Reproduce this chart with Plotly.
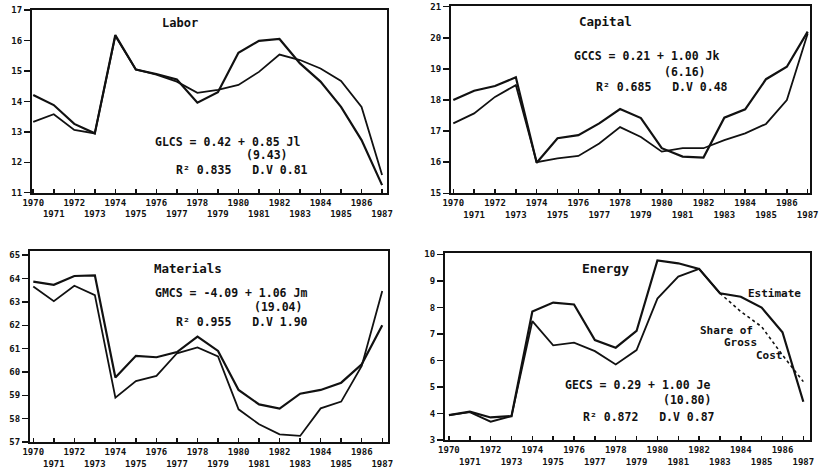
import plotly.graph_objects as go

years = list(range(1970, 1988))

labor_a = [14.21, 13.88, 13.26, 12.95, 16.18, 15.05, 14.90, 14.72, 13.96, 14.30,
           15.60, 15.99, 16.05, 15.25, 14.65, 13.82, 12.73, 11.25]
labor_b = [13.33, 13.58, 13.06, 12.95, 16.15, 15.05, 14.88, 14.65, 14.28, 14.38,
           14.54, 14.97, 15.54, 15.36, 15.08, 14.67, 13.82, 11.58]

capital_a = [18.00, 18.30, 18.45, 18.73, 15.98, 16.77, 16.87, 17.25, 17.71, 17.42,
             16.45, 16.18, 16.15, 17.43, 17.70, 18.67, 19.07, 20.20]
capital_b = [17.25, 17.57, 18.10, 18.48, 16.00, 16.12, 16.20, 16.60, 17.13, 16.81,
             16.34, 16.45, 16.45, 16.71, 16.93, 17.23, 18.00, 20.14]

materials_a = [63.87, 63.73, 64.11, 64.14, 59.76, 60.69, 60.63, 60.85, 61.51, 60.90,
               59.23, 58.61, 58.43, 59.07, 59.23, 59.54, 60.33, 62.00]
materials_b = [63.66, 63.03, 63.69, 63.29, 58.90, 59.61, 59.83, 60.80, 61.05, 60.66,
               58.40, 57.76, 57.33, 57.26, 58.44, 58.73, 60.26, 63.47]

energy_est = [3.94, 4.07, 3.85, 3.90, 7.84, 8.18, 8.11, 6.77, 6.48, 7.11,
              9.77, 9.66, 9.45, 8.53, 8.40, 7.99, 7.06, 4.44]
energy_share = [3.94, 4.05, 3.69, 3.90, 7.48, 6.57, 6.67, 6.35, 5.85, 6.39,
                8.33, 9.16, 9.45, 8.53, 7.84, 7.27, 6.20, 5.20]
energy_dash_from = 1983

labor_yticks = [11, 12, 13, 14, 15, 16, 17]
capital_yticks = [15, 16, 17, 18, 19, 20, 21]
materials_yticks = [57, 58, 59, 60, 61, 62, 63, 64, 65]
energy_yticks = [3, 4, 5, 6, 7, 8, 9, 10]

xtick_text = [str(y) if y % 2 == 0 else "<br>" + str(y) for y in years]

W, H = 819, 472
FONT = "DejaVu Sans Mono"
INK = "#111111"

fig = go.Figure()

panels = [
    # (x px left, x px right, y px top, y px bottom, xrange, yrange, yticks)
    (32, 387, 9.5, 192.7, [1969.94, 1987.24], [11, 17.02], labor_yticks),
    (451, 810, 5.5, 193.3, [1969.89, 1987.11], [15, 21.04], capital_yticks),
    (30, 388, 251, 442, [1969.84, 1987.28], [57, 65.18], materials_yticks),
    (445, 810, 252.7, 440, [1969.81, 1987.32], [3, 10.06], energy_yticks),
]

layout = dict(
    width=W, height=H, margin=dict(l=0, r=0, t=0, b=0, autoexpand=False),
    paper_bgcolor="white", plot_bgcolor="white", showlegend=False,
    font=dict(family=FONT, color=INK),
)

for i, (xl, xr, yt, yb, xr_, yr_, yt_) in enumerate(panels, start=1):
    sfx = "" if i == 1 else str(i)
    layout["xaxis" + sfx] = dict(
        domain=[xl / W, xr / W], range=xr_, anchor="y" + sfx,
        tickmode="array", tickvals=years, ticktext=xtick_text,
        tickangle=0, automargin=False,
        ticks="inside", ticklen=4, tickwidth=1.5, tickcolor=INK,
        showline=True, linewidth=2, linecolor=INK, mirror=True,
        showgrid=False, zeroline=False,
        tickfont=dict(family=FONT, size=9, color=INK, weight="bold"),
    )
    layout["yaxis" + sfx] = dict(
        domain=[1 - yb / H, 1 - yt / H], range=yr_, anchor="x" + sfx,
        tickmode="array", tickvals=yt_, ticktext=[str(v) for v in yt_],
        automargin=False,
        ticks="outside", ticklen=6, tickwidth=1.5, tickcolor=INK,
        showline=True, linewidth=2, linecolor=INK, mirror=True,
        showgrid=False, zeroline=False,
        tickfont=dict(family=FONT, size=9, color=INK, weight="bold"),
    )

def add_line(x, y, idx, width=2.0, dash="solid"):
    sfx = "" if idx == 1 else str(idx)
    fig.add_trace(go.Scatter(
        x=x, y=y, mode="lines", xaxis="x" + sfx, yaxis="y" + sfx,
        line=dict(color=INK, width=width, dash=dash), hoverinfo="skip",
    ))

add_line(years, labor_a, 1, 2.2)
add_line(years, labor_b, 1, 1.8)
add_line(years, capital_a, 2, 2.2)
add_line(years, capital_b, 2, 1.8)
add_line(years, materials_a, 3, 2.2)
add_line(years, materials_b, 3, 1.8)
add_line(years, energy_est, 4, 2.2)
k = years.index(energy_dash_from)
add_line(years[:k + 1], energy_share[:k + 1], 4, 1.8)
add_line(years[k:], energy_share[k:], 4, 1.6, dash="dot")

anns = []
def txt(idx, x, y, s, size=11, xanchor="left"):
    sfx = "" if idx == 1 else str(idx)
    anns.append(dict(
        x=x, y=y, xref="x" + sfx, yref="y" + sfx, text=s, showarrow=False,
        xanchor=xanchor, yanchor="middle", borderpad=0,
        font=dict(family=FONT, size=size, color=INK, weight="bold"),
    ))

# Labor
txt(1, 1977.15, 16.57, "Labor", 12, "center")
txt(1, 1975.88, 12.68, "GLCS = 0.42 + 0.85 Jl", 11.5)
txt(1, 1980.33, 12.24, "(9.43)", 11.5)
txt(1, 1976.9, 11.74, "R² 0.835   D.V 0.81", 11.5)
# Capital
txt(2, 1977.32, 20.51, "Capital", 12.5, "center")
txt(2, 1975.74, 19.40, "GCCS = 0.21 + 1.00 Jk", 11.5)
txt(2, 1980.05, 18.90, "(6.16)", 11.5)
txt(2, 1976.79, 18.41, "R² 0.685   D.V 0.48", 11.5)
# Materials
txt(3, 1977.53, 64.41, "Materials", 12.5, "center")
txt(3, 1975.88, 63.40, "GMCS = -4.09 + 1.06 Jm", 11.5)
txt(3, 1980.7, 62.78, "(19.04)", 11.5)
txt(3, 1976.9, 62.16, "R² 0.955   D.V 1.90", 11.5)
# Energy
txt(4, 1977.49, 9.45, "Energy", 13, "center")
txt(4, 1984.3, 8.54, "Estimate", 11)
txt(4, 1982.0, 7.11, "Share of", 11)
txt(4, 1983.15, 6.66, "Gross", 11)
txt(4, 1984.7, 6.20, "Cost", 11)
txt(4, 1975.52, 5.07, "GECS = 0.29 + 1.00 Je", 11.5)
txt(4, 1980.22, 4.52, "(10.80)", 11.5)
txt(4, 1976.38, 3.88, "R² 0.872   D.V 0.87", 11.5)

layout["annotations"] = anns
fig.update_layout(**layout)
# remove the browser's default 8px body margin so the figure sits at (0, 0)
fig.write_html(
    "out.html",
    config={"displayModeBar": False, "staticPlot": True},
    post_script="document.body.style.margin='0px';",
)
